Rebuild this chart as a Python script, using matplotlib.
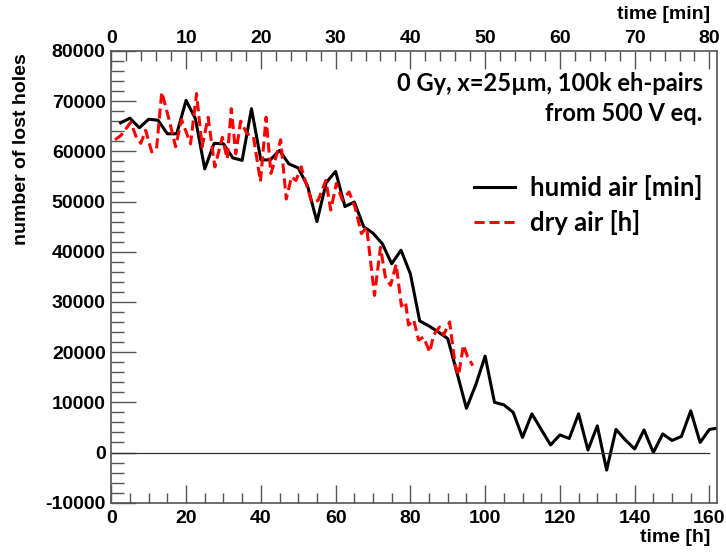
import numpy as np
import matplotlib
matplotlib.use("Agg")
import matplotlib.pyplot as plt
from matplotlib.ticker import MultipleLocator

plt.rcParams["axes.unicode_minus"] = False

# --- data ---
# humid air, time in hours on the bottom axis (top axis gives minutes = h/2)
humid_t = [2.5, 5, 7.5, 10, 12.5, 15, 17.5, 20, 22.5, 25, 27.5, 30, 32.5, 35,
           37.5, 40, 42.5, 45, 47.5, 50, 52.5, 55, 57.5, 60, 62.5, 65, 67.5, 70,
           72.5, 75, 77.5, 80, 82.5, 85, 87.5, 90, 92.5, 95, 97.5, 100, 102.5,
           105, 107.5, 110, 112.5, 115, 117.5, 120, 122.5, 125, 127.5, 130,
           132.5, 135, 137.5, 140, 142.5, 145, 147.5, 150, 152.5, 155, 157.5,
           160, 162.5]
humid_holes = [65700, 66600, 64700, 66400, 66200, 63500, 63500, 70150, 66500,
               56500, 61600, 61500, 58700, 58200, 68500, 58300, 58300, 60200,
               57500, 56700, 53100, 46000, 53800, 56000, 49000, 49900, 45000,
               43700, 41600, 37600, 40300, 35600, 26200, 25200, 24000, 22700,
               15800, 8800, 13500, 19200, 10000, 9500, 8000, 3000, 7700, 4600,
               1500, 3500, 2800, 7700, 500, 5300, -3500, 4600, 2500, 700, 4500,
               0, 3700, 2400, 3200, 8300, 2000, 4600, 4900]

# dry air, time in hours
dry_t = [1.0, 2.6, 5.2, 6.6, 7.9, 9.2, 10.8, 12.1, 13.5, 15.5, 17.2, 18.8,
         21.2, 22.8, 24.3, 25.9, 27.7, 29.7, 31.0, 32.1, 33.3, 34.6, 36.3,
         38.0, 39.9, 41.4, 42.7, 43.8, 45.3, 46.8, 48.2, 49.4, 50.8, 52.4,
         53.6, 55.3, 57.4, 58.7, 60.2, 61.8, 63.6, 65.2, 66.9, 68.3, 70.4,
         72.0, 73.3, 74.7, 76.2, 77.6, 78.7, 79.5, 80.9, 82.2, 83.5, 85.2,
         86.2, 87.8, 88.9, 90.5, 92.0, 92.9, 94.2, 95.3, 96.7]
dry_holes = [62300, 63200, 65800, 63000, 61600, 64200, 59900, 60500, 71800,
             66200, 60900, 66300, 61500, 71500, 60900, 66800, 56900, 62800,
             58500, 68500, 59500, 66000, 63500, 63000, 54000, 66800, 55600,
             58200, 62300, 50500, 54900, 54200, 56900, 52900, 49900, 50200,
             54200, 48300, 53600, 50300, 51900, 48900, 43600, 44900, 31300,
             40900, 35000, 33300, 37500, 29200, 30000, 25400, 26400, 22400,
             23000, 20000, 23400, 25000, 23400, 26000, 17400, 15400, 21400,
             19100, 17300]

x_max = 162.1

# --- figure ---
fig = plt.figure(figsize=(7.26, 5.54), dpi=100)
ax = fig.add_axes([0.1533, 0.0926, 0.8347, 0.8154])

ax.plot(humid_t, humid_holes, color="black", lw=2.2, label="humid air [min]")
ax.plot(dry_t, dry_holes, color="red", lw=2.2, dashes=(3.3, 1.6),
        label="dry air [h]")
ax.plot([0, 160], [0, 0], color="#333333", lw=0.9)

ax.set_xlim(0, x_max)
ax.set_ylim(-10000, 80000)

tick_font = {"family": "Liberation Sans", "weight": "bold", "size": 14}

ax.xaxis.set_major_locator(MultipleLocator(20))
ax.xaxis.set_minor_locator(MultipleLocator(5))
ax.yaxis.set_major_locator(MultipleLocator(10000))
ax.yaxis.set_minor_locator(MultipleLocator(2000))
ax.tick_params(which="both", direction="in", top=False, right=False,
               color="#555555")
ax.tick_params(axis="x", which="major", length=13, width=1, pad=5)
ax.tick_params(axis="x", which="minor", length=7, width=1)
ax.tick_params(axis="y", which="major", length=18, width=1, pad=4)
ax.tick_params(axis="y", which="minor", length=9, width=1)
for lab in ax.get_xticklabels() + ax.get_yticklabels():
    lab.set_fontproperties(tick_font)
for sp in ax.spines.values():
    sp.set_color("#555555")
    sp.set_linewidth(1.2)

# top axis in minutes
ax2 = ax.twiny()
ax2.set_xlim(0, x_max / 2)
ax2.xaxis.set_major_locator(MultipleLocator(10))
ax2.xaxis.set_minor_locator(MultipleLocator(2))
ax2.tick_params(which="both", direction="in", color="#555555")
ax2.tick_params(which="major", length=13, width=1, pad=3)
ax2.tick_params(which="minor", length=7, width=1)
for lab in ax2.get_xticklabels():
    lab.set_fontproperties(tick_font)
for sp in ax2.spines.values():
    sp.set_visible(False)

# axis titles
fig.text(0.978, 0.029, "time [h]", ha="right", va="center", **tick_font)
fig.text(0.978, 0.973, "time [min]", ha="right", va="center", **tick_font)
fig.text(0.030, 0.731, "number of lost holes", rotation=90, ha="center",
         va="center", **tick_font)

# annotation
note_font = {"family": "Lato", "weight": "bold", "size": 17}
fig.text(0.968, 0.850, "0 Gy, x=25\u00b5m, 100k eh-pairs", ha="right",
         va="center", **note_font)
fig.text(0.968, 0.796, "from 500 V eq.", ha="right", va="center", **note_font)

leg = ax.legend(loc="upper right", bbox_to_anchor=(0.976, 0.725), frameon=False,
                prop={"family": "Lato", "weight": "bold", "size": 18.5},
                handlelength=1.6, handletextpad=0.6, labelspacing=0.4,
                borderpad=0, borderaxespad=0)

fig.savefig("out.png", dpi=100)
